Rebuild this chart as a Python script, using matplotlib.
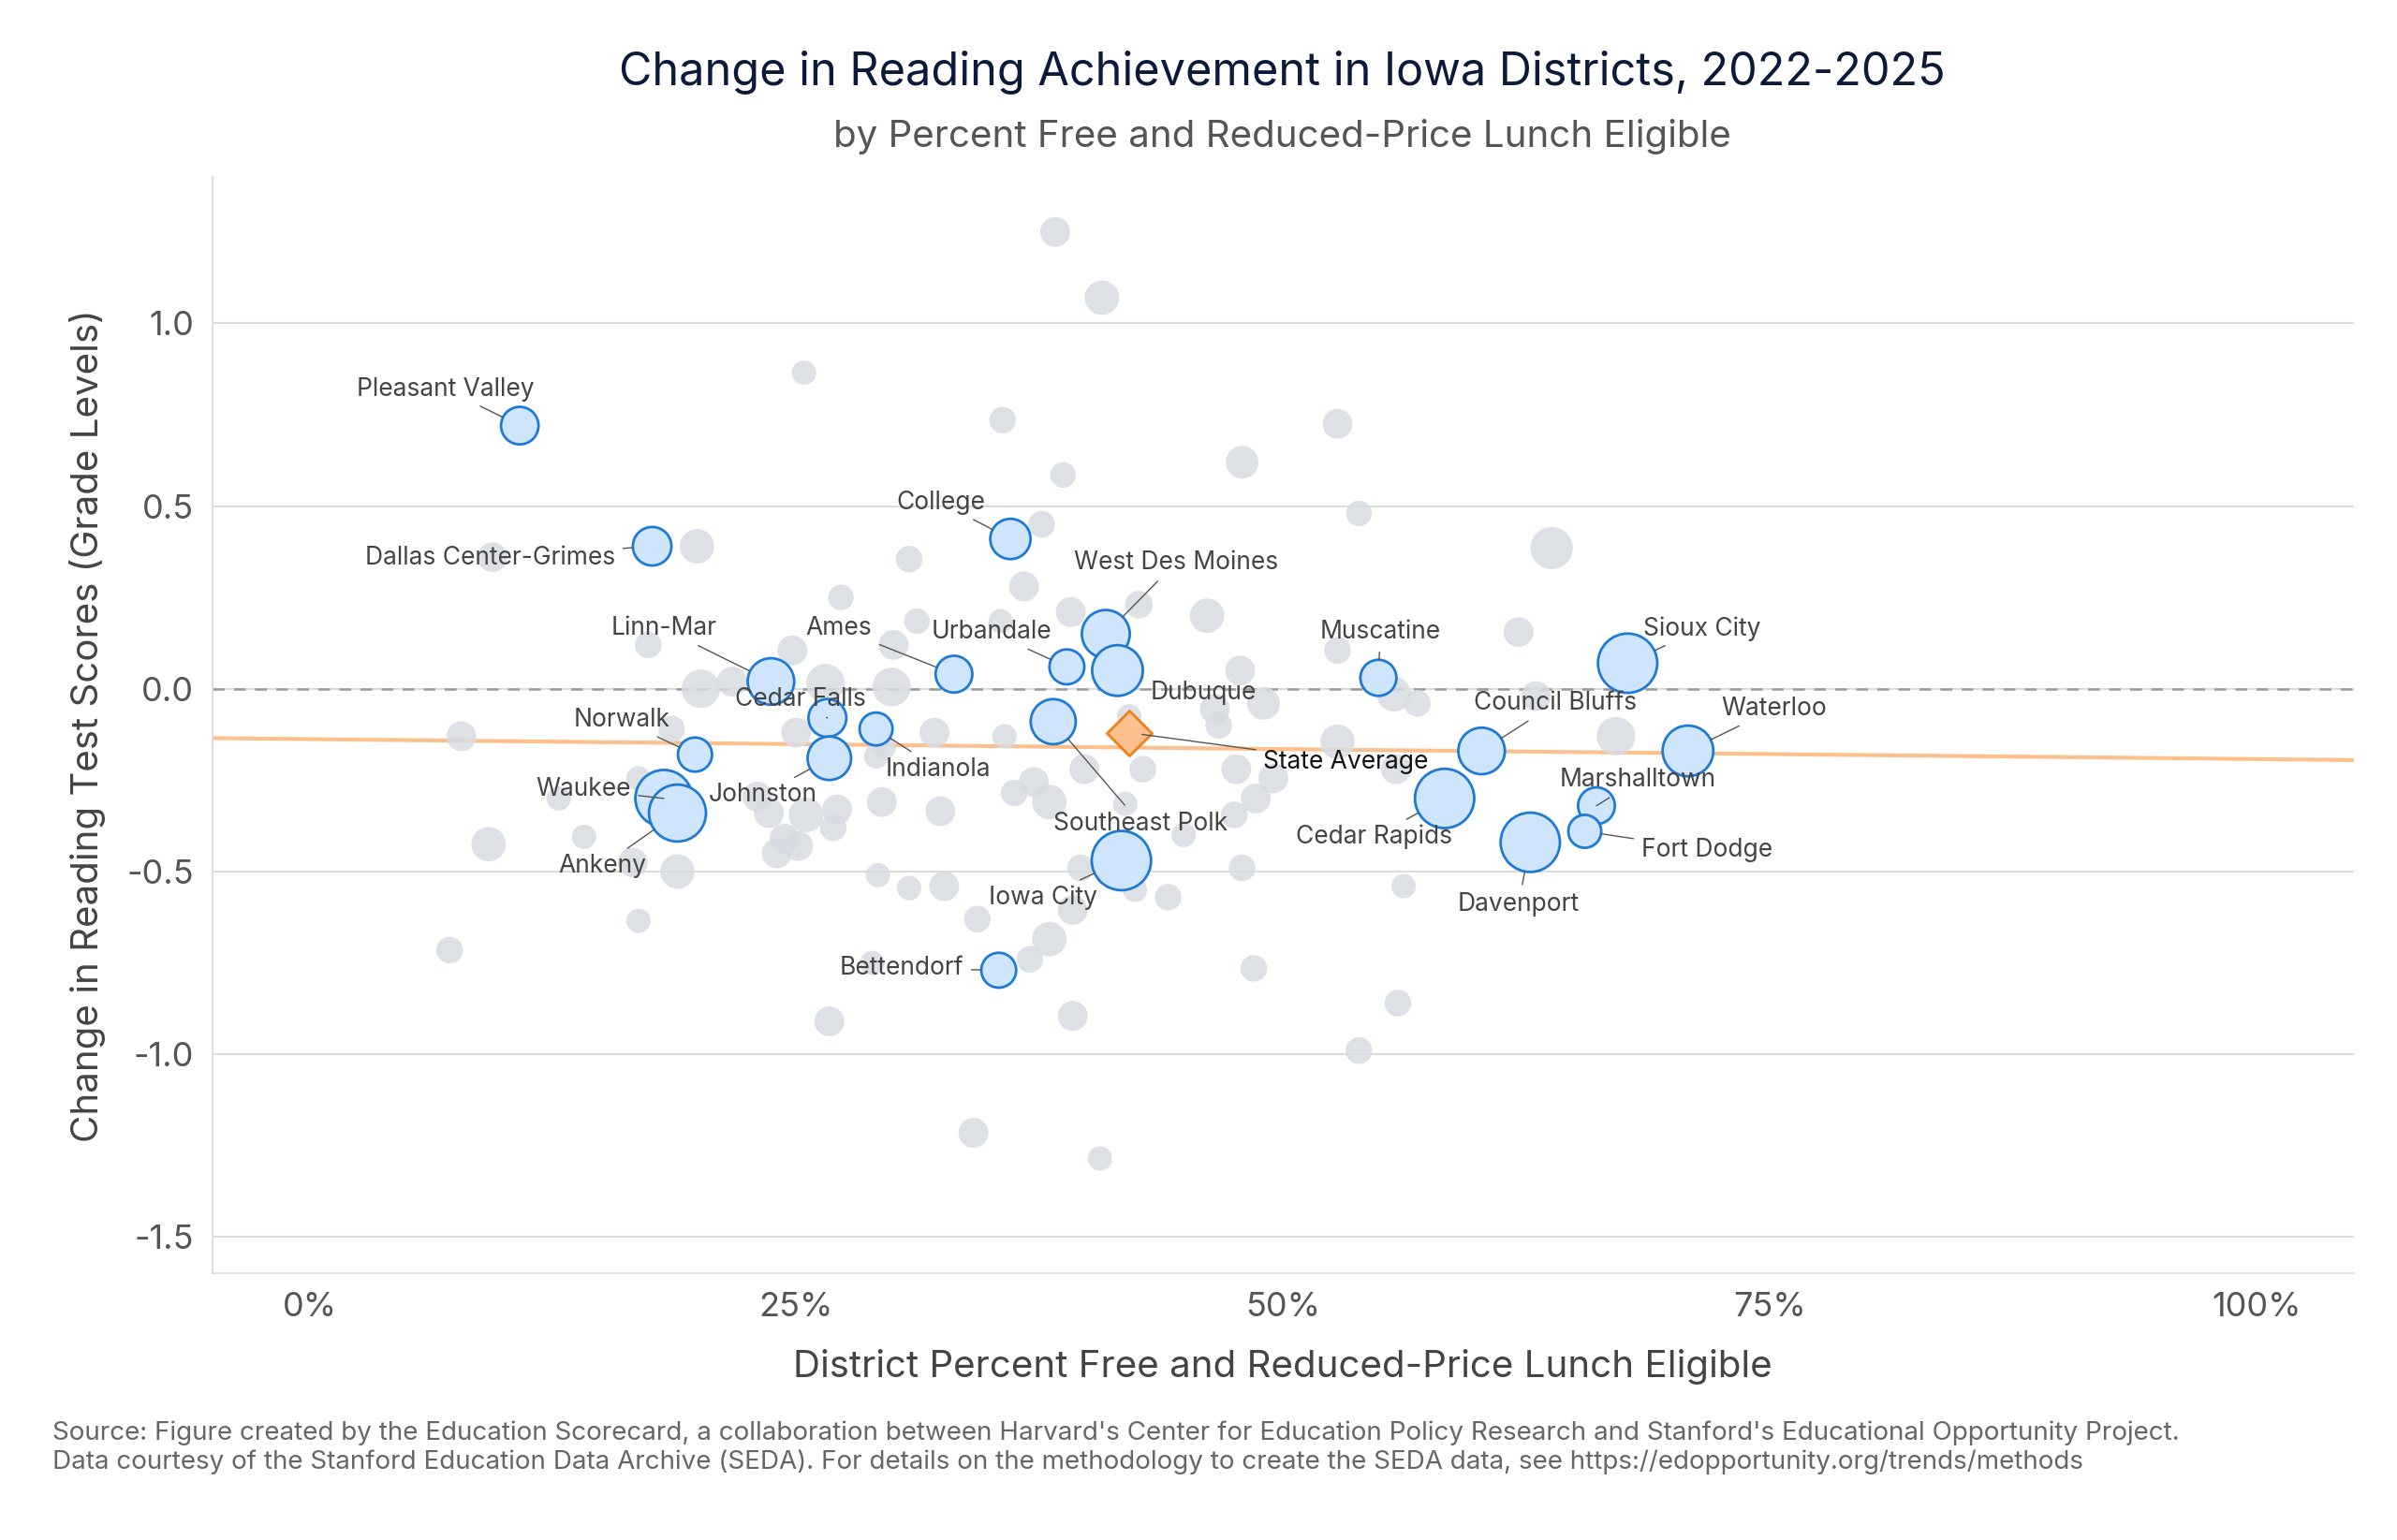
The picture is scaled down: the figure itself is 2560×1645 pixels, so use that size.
import matplotlib
matplotlib.use("Agg")
import matplotlib.pyplot as plt
import numpy as np

plt.rcParams['font.family'] = ['Inter', 'DejaVu Sans']

# Named districts
names = ["Pleasant Valley","Dallas Center-Grimes","College","West Des Moines","Linn-Mar","Ames",
         "Urbandale","Dubuque","Muscatine","Sioux City","Cedar Falls","Indianola","Norwalk","Johnston",
         "Waukee","Ankeny","Southeast Polk","Iowa City","Bettendorf","Council Bluffs","Cedar Rapids",
         "Davenport","Marshalltown","Fort Dodge","Waterloo"]
frl = [10.8,17.6,36.0,40.9,23.7,33.1,38.9,41.5,54.9,67.7,26.6,29.1,19.8,26.7,18.2,18.9,38.2,41.7,35.4,60.2,58.3,62.7,66.1,65.5,70.8]
chg = [0.72,0.39,0.41,0.15,0.02,0.04,0.06,0.05,0.03,0.07,-0.08,-0.11,-0.18,-0.19,-0.30,-0.34,-0.09,-0.47,-0.77,-0.17,-0.30,-0.42,-0.32,-0.39,-0.17]
enroll = [5.2,5.5,6.0,8.5,8.0,5.0,4.5,9.5,4.8,13.0,5.3,4.0,4.3,7.0,12.0,12.0,7.5,13.0,4.5,8.0,13.0,13.0,5.0,4.0,9.5]
lab_x = [7.0,15.7,34.7,44.5,20.9,28.9,38.1,43.2,55.0,68.5,25.2,32.3,18.5,23.3,16.5,17.3,42.7,37.7,33.6,64.0,54.7,62.1,68.2,68.4,72.5]
lab_y = [0.82,0.357,0.51,0.345,0.165,0.165,0.155,-0.01,0.155,0.165,-0.03,-0.22,-0.085,-0.29,-0.275,-0.485,-0.37,-0.57,-0.765,-0.04,-0.405,-0.59,-0.25,-0.44,-0.055]
lab_ha = ["center","right","right","center","right","right","right","left","center","left","center","center",
          "right","center","right","right","center","center","right","center","center","center","center","left","left"]

# Other districts
gx = [38.3,40.7,25.4,35.6,52.8,38.7,47.9,53.9,37.6,63.8,19.9,9.4,30.8,36.7,27.3,42.6,39.1,46.1,31.2,35.5,62.1,17.4,24.8,30.0,52.8,47.8,26.5,29.9,20.1,21.7,55.7,56.9,49.0,63.0,46.5,42.1,46.7,32.1,7.8,35.7,52.8,67.1,18.6,25.0,29.5,29.1,42.8,47.6,49.5,55.8,39.8,37.2,36.2,38.0,32.4,27.1,29.4,16.9,12.8,23.0,23.6,25.5,26.9,24.4,24.0,25.1,48.6,47.5,41.9,44.9,14.1,9.2,16.6,18.9,29.2,30.8,32.6,39.6,47.9,42.4,44.1,56.2,39.2,16.9,34.3,38.0,7.2,37.0,28.9,48.5,55.9,39.2,26.7,53.9,34.1,40.6]
gy = [1.25,1.07,0.865,0.735,0.725,0.585,0.62,0.48,0.45,0.385,0.39,0.36,0.355,0.28,0.25,0.23,0.21,0.20,0.185,0.185,0.155,0.12,0.105,0.12,0.105,0.05,0.015,0.005,0.0,0.02,-0.015,-0.04,-0.04,-0.02,-0.055,-0.075,-0.10,-0.12,-0.13,-0.13,-0.145,-0.13,-0.11,-0.12,-0.16,-0.185,-0.22,-0.22,-0.245,-0.22,-0.22,-0.255,-0.285,-0.31,-0.335,-0.33,-0.31,-0.245,-0.30,-0.295,-0.34,-0.345,-0.38,-0.41,-0.45,-0.43,-0.30,-0.345,-0.315,-0.40,-0.405,-0.425,-0.475,-0.50,-0.51,-0.545,-0.54,-0.49,-0.49,-0.55,-0.57,-0.54,-0.605,-0.635,-0.63,-0.685,-0.715,-0.74,-0.75,-0.765,-0.86,-0.895,-0.91,-0.99,-1.215,-1.285]
gsize = [1.5,2.0,1.0,1.2,1.5,1.1,1.8,1.1,1.2,3.0,2.0,1.5,1.2,1.5,1.1,1.3,1.5,2.0,1.1,1.0,1.5,1.2,1.5,1.5,1.2,1.5,2.5,2.5,2.5,1.5,2.0,1.2,1.8,1.5,1.5,1.0,1.2,1.5,1.5,1.0,2.0,2.5,1.2,1.5,1.0,1.0,1.2,1.5,1.5,1.5,1.5,1.5,1.2,2.0,1.5,1.5,1.5,1.0,1.0,1.5,1.5,2.0,1.2,1.5,1.5,1.5,1.5,1.2,1.0,1.0,1.0,2.0,1.5,2.0,1.0,1.0,1.5,1.2,1.2,1.0,1.2,1.0,1.5,1.0,1.2,2.0,1.2,1.2,1.0,1.2,1.2,1.5,1.5,1.2,1.5,1.0]

state_x, state_y = 42.1, -0.12
trend_x = [-5, 105]
trend_y = [-0.135, -0.195]

xticks = [0, 25, 50, 75, 100]
xticklabels = ["0%", "25%", "50%", "75%", "100%"]
yticks = [1.0, 0.5, 0.0, -0.5, -1.0, -1.5]
yticklabels = ["1.0", "0.5", "0.0", "-0.5", "-1.0", "-1.5"]

fig = plt.figure(figsize=(25.6, 16.45), dpi=100)
ax = fig.add_axes([0.0885, 0.173, 0.8935, 0.712])
ax.set_xlim(-5, 105)
ax.set_ylim(-1.6, 1.4)

for y in yticks:
    ax.axhline(y, color="#dcdcdc", lw=1.5, zorder=0)
ax.axhline(0, color="#9a9a9a", lw=1.8, ls=(0, (5, 4)), zorder=1)
ax.plot(trend_x, trend_y, color="#fbc08e", lw=3, zorder=1)

def sz(e):
    return 160 * np.asarray(e)

ax.scatter(gx, gy, s=sz(gsize) * 2.2, color="#d8dce2", alpha=0.85, edgecolor="none", zorder=2)
ax.scatter(frl, chg, s=sz(enroll), color="#cfe5fb", edgecolor="#1f7ad6", lw=2, zorder=4)
ax.scatter([state_x], [state_y], s=600, marker="D", color="#fdc18d", edgecolor="#f07f1b", lw=2, zorder=5)

for n, x, y, e, lx, ly, ha in zip(names, frl, chg, enroll, lab_x, lab_y, lab_ha):
    r = np.sqrt(sz(e)) / 2
    ax.annotate(n, xy=(x, y), xytext=(lx, ly), ha=ha, va="center", fontsize=19, color="#444444",
                arrowprops=dict(arrowstyle="-", color="#555555", lw=1, shrinkA=4, shrinkB=r), zorder=6)
ax.annotate("State Average", xy=(state_x, state_y), xytext=(49.0, -0.2), ha="left", va="center",
            fontsize=19, color="#111111",
            arrowprops=dict(arrowstyle="-", color="#555555", lw=1, shrinkA=4, shrinkB=10), zorder=6)

ax.set_xticks(xticks)
ax.set_xticklabels(xticklabels)
ax.set_yticks(yticks)
ax.set_yticklabels(yticklabels)
ax.tick_params(axis="both", length=0, labelsize=26, labelcolor="#555555", pad=14)
for s in ["top", "right"]:
    ax.spines[s].set_visible(False)
for s in ["left", "bottom"]:
    ax.spines[s].set_color("#dddddd")
    ax.spines[s].set_linewidth(1.5)

ax.set_xlabel("District Percent Free and Reduced-Price Lunch Eligible", fontsize=29, color="#444444", labelpad=20)
ax.set_ylabel("Change in Reading Test Scores (Grade Levels)", fontsize=29, color="#444444", labelpad=16)

fig.text(0.535, 0.953, "Change in Reading Achievement in Iowa Districts, 2022-2025", ha="center", va="center",
         fontsize=35, color="#0b1a3a")
fig.text(0.535, 0.911, "by Percent Free and Reduced-Price Lunch Eligible", ha="center", va="center",
         fontsize=29, color="#555555")
fig.text(0.022, 0.060, "Source: Figure created by the Education Scorecard, a collaboration between Harvard's Center for Education Policy Research and Stanford's Educational Opportunity Project.\n"
         "Data courtesy of the Stanford Education Data Archive (SEDA). For details on the methodology to create the SEDA data, see https://edopportunity.org/trends/methods",
         ha="left", va="center", fontsize=20, color="#666666", linespacing=1.2)

fig.savefig("out.png", dpi=100)
